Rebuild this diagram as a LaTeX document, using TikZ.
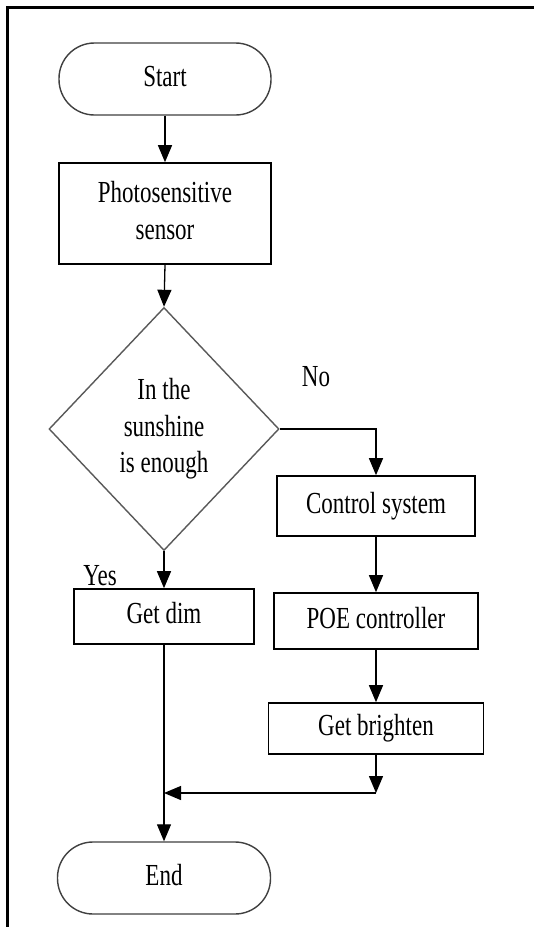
\documentclass[tikz,border=0pt]{standalone}
\usepackage{fontspec}
\setmainfont{Liberation Serif}
\usetikzlibrary{shapes.geometric,arrows.meta,calc}
\newcommand{\tx}[1]{\scalebox{1}[1.33]{\begin{tabular}{@{}c@{}}#1\end{tabular}}}
\begin{document}
\begin{tikzpicture}[x=1pt,y=-1pt,
  every node/.style={font=\fontsize{23}{27.5}\selectfont},
  box/.style={draw=black,line width=1.6pt,rectangle,inner sep=0pt},
  term/.style={draw=black!75,line width=1.4pt,rectangle,rounded corners=35.5pt,inner sep=0pt,minimum width=212pt,minimum height=72pt},
  dec/.style={draw=black!65,line width=1.4pt,diamond,inner sep=0pt,minimum width=230pt,minimum height=243pt},
  arr/.style={line width=1.3pt,-{Triangle[length=17pt,width=14pt]}},
  ln/.style={line width=1.3pt}]
\useasboundingbox (0,0) rectangle (534,927);
\fill[white] (0,0) rectangle (534,927);
\draw[line width=2.4pt] (7.3,927) -- (7.3,7.5) -- (534,7.5);
\node[term] (start) at (165,79) {\tx{Start}};
\node[box,minimum width=212pt,minimum height=101pt] (sensor) at (165,213.5) {\tx{Photosensitive\\sensor}};
\node[dec] (cond) at (164,429) {\tx{In the\\sunshine\\is enough}};
\node[box,minimum width=198pt,minimum height=60pt] (ctrl) at (376,506) {\tx{Control system}};
\node[box,minimum width=204pt,minimum height=56pt] (poe) at (376,621) {\tx{POE controller}};
\node[box,minimum width=215pt,minimum height=51pt] (gb) at (376,728.5) {\tx{Get brighten}};
\node[box,minimum width=180pt,minimum height=55pt] (dim) at (164,616.5) {\tx{Get dim}};
\node[term,minimum width=213pt] (end) at (164,878) {\tx{End}};
\node (no) at (316,379) {\tx{No}};
\node (yes) at (100,578) {\tx{Yes}};
\coordinate (corner) at (376,793);
\coordinate (join) at (164,793);
\draw[arr] (start.south) -- (sensor.north);
\draw[arr] (sensor.south) -- (cond.north);
\draw[arr] (cond.east) -| (ctrl.north);
\draw[arr] (ctrl.south) -- (poe.north);
\draw[arr] (poe.south) -- (gb.north);
\draw[arr] (cond.south) -- (dim.north);
\draw[arr] (gb.south) -- (corner);
\draw[arr] (corner) -- (join);
\draw[arr] (dim.south) -- (end.north);
\end{tikzpicture}
\end{document}
